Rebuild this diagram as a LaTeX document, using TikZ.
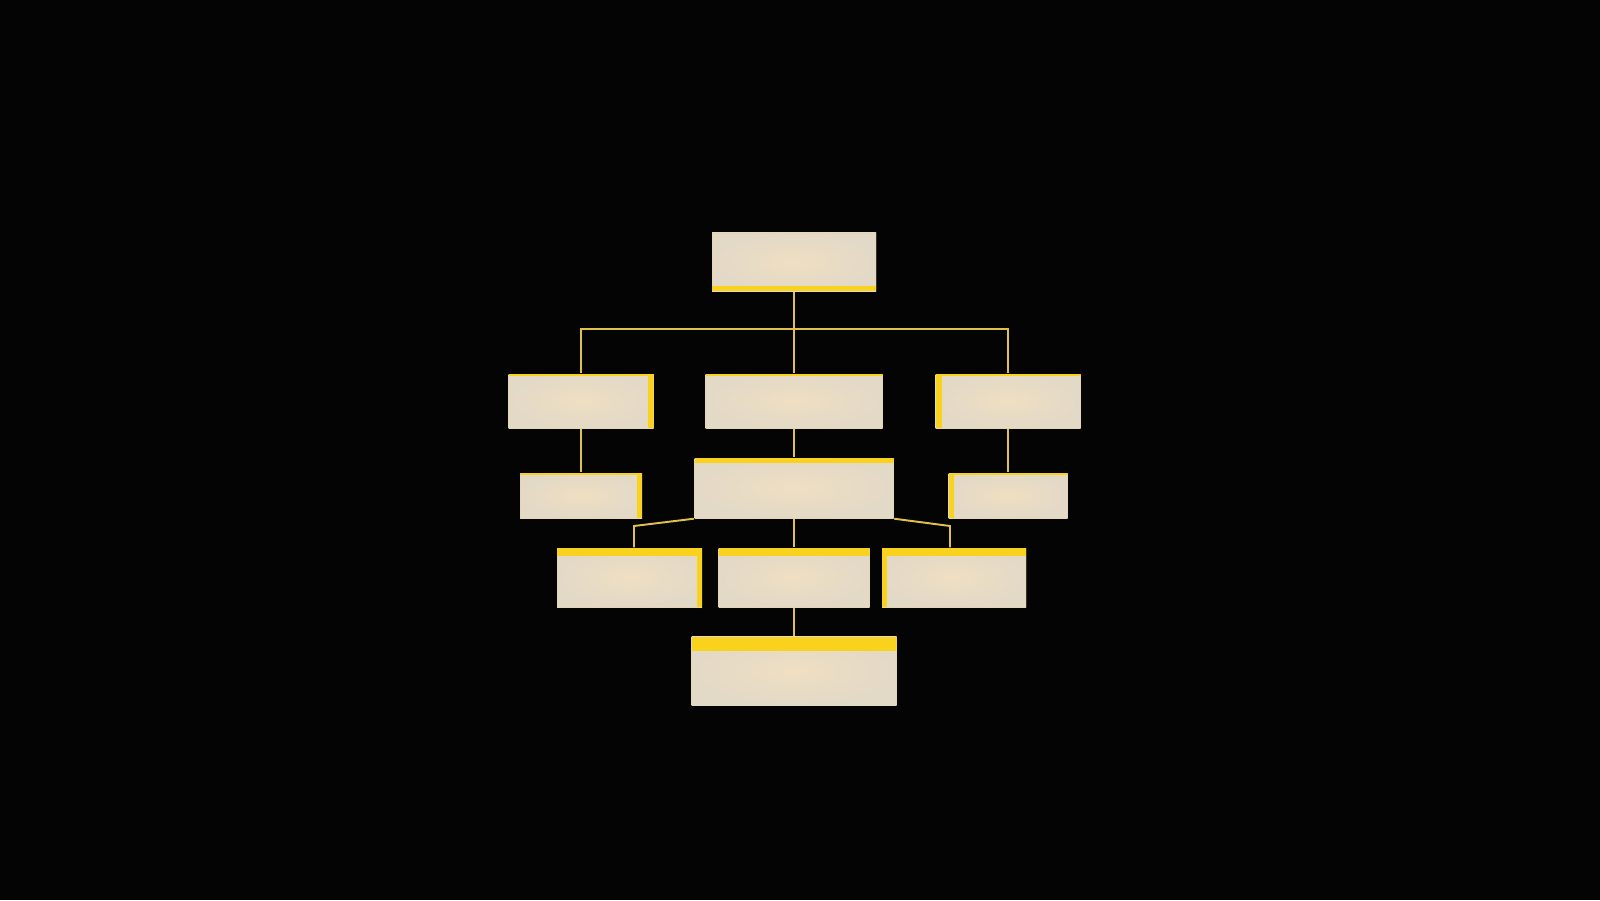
\documentclass[tikz,border=0pt]{standalone}
\usepackage{tikz}
\usepackage{xcolor}
\definecolor{bgdark}{HTML}{040404}
\definecolor{cream}{HTML}{E3D9C7}
\definecolor{creamlight}{HTML}{EFDFC2}
\definecolor{gold}{HTML}{F8D21C}
\definecolor{wire}{HTML}{E2C04C}

\begin{document}
\begin{tikzpicture}[
  block/.style={rectangle, inner sep=0pt, inner color=creamlight, outer color=cream},
  edges/.style n args={4}{path picture={
    \fill[gold] (path picture bounding box.north west) rectangle ([yshift=-#1]path picture bounding box.north east);
    \fill[gold] (path picture bounding box.north east) rectangle ([xshift=-#2]path picture bounding box.south east);
    \fill[gold] (path picture bounding box.south west) rectangle ([yshift=#3]path picture bounding box.south east);
    \fill[gold] (path picture bounding box.north west) rectangle ([xshift=#4]path picture bounding box.south west);
  }},
  wire/.style={draw=wire, line width=0.55pt}
]
  \useasboundingbox (0,0) rectangle (16,9);
  \fill[bgdark] (0,0) rectangle (16,9);

  \node[block, edges={0pt}{0pt}{0.05cm}{0pt}, minimum width=1.64cm, minimum height=0.58cm] (top) at (7.94,6.38) {};

  \node[block, edges={0.02cm}{0.06cm}{0pt}{0pt}, minimum width=1.45cm, minimum height=0.54cm] (l2) at (5.81,4.99) {};
  \node[block, edges={0.02cm}{0pt}{0pt}{0pt}, minimum width=1.77cm, minimum height=0.54cm] (m2) at (7.94,4.99) {};
  \node[block, edges={0.02cm}{0pt}{0pt}{0.06cm}, minimum width=1.45cm, minimum height=0.54cm] (r2) at (10.08,4.99) {};

  \node[block, edges={0.02cm}{0.05cm}{0pt}{0pt}, minimum width=1.22cm, minimum height=0.45cm] (l3) at (5.81,4.045) {};
  \node[block, edges={0.05cm}{0pt}{0pt}{0pt}, minimum width=1.99cm, minimum height=0.60cm] (m3) at (7.94,4.12) {};
  \node[block, edges={0.02cm}{0pt}{0pt}{0.05cm}, minimum width=1.19cm, minimum height=0.45cm] (r3) at (10.08,4.045) {};

  \node[block, edges={0.08cm}{0.05cm}{0pt}{0pt}, minimum width=1.45cm, minimum height=0.59cm] (l4) at (6.295,3.225) {};
  \node[block, edges={0.08cm}{0pt}{0pt}{0pt}, minimum width=1.51cm, minimum height=0.59cm] (m4) at (7.94,3.225) {};
  \node[block, edges={0.08cm}{0pt}{0pt}{0.05cm}, minimum width=1.44cm, minimum height=0.59cm] (r4) at (9.54,3.225) {};

  \node[block, edges={0.14cm}{0pt}{0pt}{0pt}, minimum width=2.05cm, minimum height=0.69cm] (b5) at (7.94,2.29) {};

  \coordinate (bus) at (7.94,5.71);
  \coordinate (kl) at (6.34,3.74);
  \coordinate (kr) at (9.50,3.74);

  \draw[wire] (top.south) -- (m2.north);
  \draw[wire] (l2.north) |- (bus) -| (r2.north);
  \draw[wire] (l2.south) -- (l3.north);
  \draw[wire] (m2.south) -- (m3.north);
  \draw[wire] (r2.south) -- (r3.north);
  \draw[wire] (m3.south west) -- (kl) -- (kl |- l4.north);
  \draw[wire] (m3.south east) -- (kr) -- (kr |- r4.north);
  \draw[wire] (m3.south) -- (m4.north);
  \draw[wire] (m4.south) -- (b5.north);
\end{tikzpicture}
\end{document}
